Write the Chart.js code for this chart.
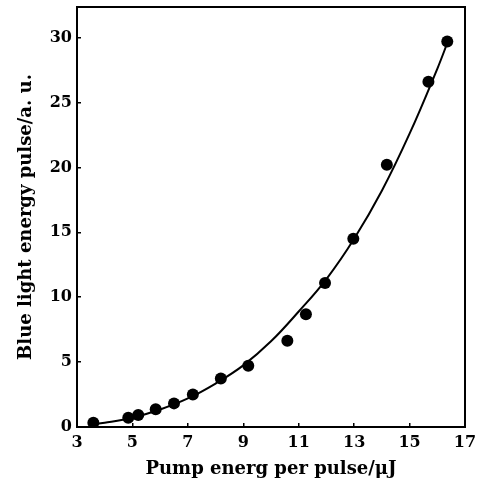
<!DOCTYPE html>
<html>
<head>
<meta charset="utf-8">
<script src="https://cdn.jsdelivr.net/npm/chart.js@4/dist/chart.umd.min.js"></script>
<style>
html,body{margin:0;padding:0;background:#fff;}
canvas{display:block;}
</style>
</head>
<body>
<canvas id="c" width="481" height="481"></canvas>
<script>
// Measured points
const pumpEnergy = [3.59, 4.85, 5.21, 5.84, 6.50, 7.18, 8.19, 9.18, 10.59, 11.26, 11.95, 12.97, 14.18, 15.68, 16.36];
const blueEnergy = [0.33, 0.72, 0.92, 1.36, 1.82, 2.51, 3.74, 4.72, 6.64, 8.69, 11.1, 14.5, 20.2, 26.6, 29.7];
// Fitted curve
const curveX = [3.5, 4.0, 5.0, 6.0, 7.0, 8.0, 9.0, 10.0, 11.0, 12.0, 13.0, 14.0, 15.0, 16.0, 16.4];
const curveY = [0.18, 0.32, 0.72, 1.35, 2.2, 3.35, 4.75, 6.6, 8.9, 11.4, 14.5, 18.2, 22.6, 27.6, 29.8];
// Ticks
const xTicks = [3, 5, 7, 9, 11, 13, 15, 17];
const yTicks = [0, 5, 10, 15, 20, 25, 30];
const xTitle = 'Pump energ per pulse/\u03bcJ';
const yTitle = 'Blue light energy pulse/a. u.';

const frame = {
  id: 'frame',
  afterDraw(chart) {
    const a = chart.chartArea, ctx = chart.ctx;
    ctx.save();
    ctx.strokeStyle = '#000';
    ctx.lineWidth = 2;
    ctx.strokeRect(a.left, a.top, a.right - a.left, a.bottom - a.top);
    ctx.restore();
  }
};

const tickFont = {family: 'DejaVu Serif', size: 16, weight: 'bold'};
const titleFont = {family: 'DejaVu Serif', size: 18, weight: 'bold'};

new Chart(document.getElementById('c'), {
  type: 'scatter',
  data: {
    datasets: [
      {
        data: curveX.map((x, i) => ({x: x, y: curveY[i]})),
        showLine: true,
        borderColor: '#000',
        borderWidth: 2,
        pointRadius: 0,
        tension: 0.4,
        fill: false
      },
      {
        data: pumpEnergy.map((x, i) => ({x: x, y: blueEnergy[i]})),
        showLine: false,
        backgroundColor: '#000',
        borderColor: '#000',
        pointRadius: 6,
        pointBorderWidth: 0
      }
    ]
  },
  options: {
    responsive: false,
    animation: false,
    layout: {padding: {top: 7, right: 16, left: 0, bottom: 0}},
    plugins: {legend: {display: false}, tooltip: {enabled: false}},
    scales: {
      x: {
        type: 'linear',
        min: 3, max: 17,
        afterBuildTicks: s => { s.ticks = xTicks.map(v => ({value: v})); },
        afterFit: s => { s.height = 54; s.paddingLeft = 0; s.paddingRight = 0; s.paddingTop = 0; s.paddingBottom = 0; },
        grid: {drawOnChartArea: false, tickLength: -4, color: '#000', lineWidth: 1.5},
        border: {display: true, color: '#000', width: 2},
        ticks: {color: '#000', font: tickFont, padding: 10, maxRotation: 0, autoSkip: false},
        title: {display: true, text: xTitle, color: '#000', font: titleFont, padding: {top: 0, bottom: 1}}
      },
      y: {
        type: 'linear',
        min: 0, max: 32.36,
        afterBuildTicks: s => { s.ticks = yTicks.map(v => ({value: v})); },
        afterFit: s => { s.width = 77; s.paddingLeft = 0; s.paddingRight = 0; s.paddingTop = 0; s.paddingBottom = 0; },
        grid: {drawOnChartArea: false, tickLength: -4, color: '#000', lineWidth: 1.5},
        border: {display: true, color: '#000', width: 2},
        ticks: {color: '#000', font: tickFont, padding: 9, autoSkip: false},
        title: {display: true, text: yTitle, color: '#000', font: titleFont, padding: {top: 16, bottom: 0}}
      }
    }
  },
  plugins: [frame]
});
</script>
</body>
</html>
